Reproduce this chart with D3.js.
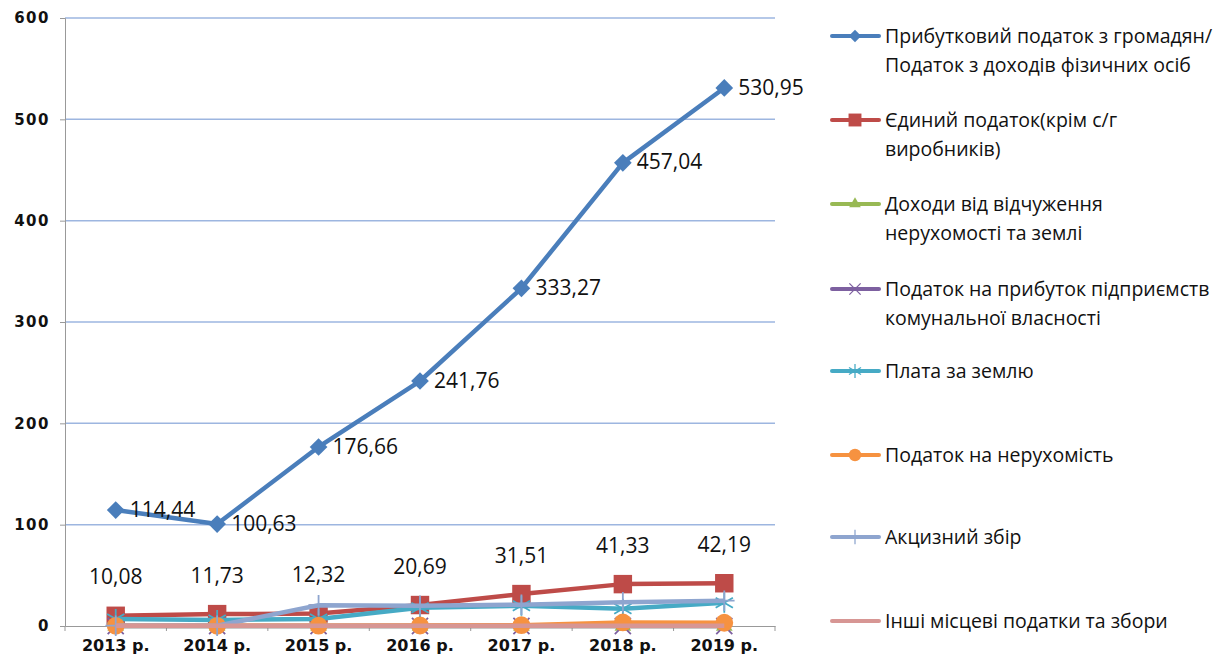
<!DOCTYPE html>
<html>
<head>
<meta charset="utf-8">
<script src="https://cdn.jsdelivr.net/npm/d3@7"></script>
<style>
  body { margin: 0; background: #fff; }
  svg { display: block; }
</style>
</head>
<body>
<svg id="chart" width="1219" height="667"></svg>
<script>
// data
const years = ["2013 р.", "2014 р.", "2015 р.", "2016 р.", "2017 р.", "2018 р.", "2019 р."];
const pdfo = [114.44, 100.63, 176.66, 241.76, 333.27, 457.04, 530.95];
const singleTax = [10.08, 11.73, 12.32, 20.69, 31.51, 41.33, 42.19];
const alienation = [0, 0, 0, 0, 0, 0, 0];
const profitTax = [0, 0, 0, 0, 0, 0, 0];
const landFee = [7, 6, 7, 18, 20, 17, 23];
const propertyTax = [0.2, 0.2, 0.3, 0.5, 0.8, 3.5, 3.2];
const excise = [0.3, 0.3, 20.5, 20, 21, 23.5, 25];
const otherTaxes = [0.3, 0.3, 0.3, 0.3, 0.3, 0.3, 0.3];
const yTicks = [0, 100, 200, 300, 400, 500, 600];

const series = [
  { name: ["Прибутковий податок з громадян/", "Податок з доходів фізичних осіб"], values: pdfo, color: "#4A7EBB", marker: "diamond", labels: "right" },
  { name: ["Єдиний податок(крім с/г", "виробників)"], values: singleTax, color: "#BE4B48", marker: "square", labels: "above" },
  { name: ["Доходи від відчуження", "нерухомості та землі"], values: alienation, color: "#98B954", marker: "triangle" },
  { name: ["Податок на прибуток підприємств", "комунальної власності"], values: profitTax, color: "#7D60A0", marker: "x" },
  { name: ["Плата за землю"], values: landFee, color: "#46AAC5", marker: "asterisk" },
  { name: ["Податок на нерухомість"], values: propertyTax, color: "#F69240", marker: "circle" },
  { name: ["Акцизний збір"], values: excise, color: "#8EA5CF", marker: "plus" },
  { name: ["Інші місцеві податки та збори"], values: otherTaxes, color: "#D79694", marker: null }
];

const svg = d3.select("#chart");
const plotLeft = 65, plotRight = 775, plotTop = 18, plotBottom = 626;

const x = d3.scaleBand().domain(years).range([plotLeft, plotRight]);
const y = d3.scaleLinear().domain([0, 600]).range([plotBottom, plotTop]);
const cx = d => x(d) + x.bandwidth() / 2;

// gridlines
svg.append("g")
  .selectAll("line")
  .data(yTicks.filter(t => t > 0))
  .enter().append("line")
  .attr("x1", plotLeft).attr("x2", plotRight)
  .attr("y1", d => y(d)).attr("y2", d => y(d))
  .attr("stroke", "#9DB6E0").attr("stroke-width", 1.5);

// y axis
const yAxis = svg.append("g")
  .attr("transform", `translate(${plotLeft},0)`)
  .call(d3.axisLeft(y).tickValues(yTicks).tickSize(5).tickPadding(10).tickFormat(d3.format("d")));
yAxis.select(".domain").attr("stroke", "#999");
yAxis.selectAll(".tick line").attr("stroke", "#999");
yAxis.selectAll("text")
  .attr("font-family", "DejaVu Sans").attr("font-size", 15).attr("font-weight", "bold")
  .attr("letter-spacing", 1.5)
  .attr("fill", "#111");

// x axis
const xAxis = svg.append("g")
  .attr("transform", `translate(0,${plotBottom})`)
  .call(d3.axisBottom(x).tickSize(0).tickPadding(14));
xAxis.select(".domain").attr("stroke", "#999");
xAxis.selectAll("text")
  .attr("font-family", "DejaVu Sans").attr("font-size", 16).attr("font-weight", "bold")
  .attr("fill", "#111");
// tick marks between categories
svg.append("g")
  .selectAll("line")
  .data(d3.range(years.length + 1))
  .enter().append("line")
  .attr("x1", i => plotLeft + i * x.bandwidth())
  .attr("x2", i => plotLeft + i * x.bandwidth())
  .attr("y1", plotBottom).attr("y2", plotBottom + 5)
  .attr("stroke", "#999");

function markerPath(type) {
  const sym = {
    diamond: d3.symbol().type(d3.symbolDiamond2).size(200),
    square: d3.symbol().type(d3.symbolSquare).size(340),
    triangle: d3.symbol().type(d3.symbolTriangle).size(120),
    circle: d3.symbol().type(d3.symbolCircle).size(250),
    x: d3.symbol().type(d3.symbolTimes).size(170),
    plus: d3.symbol().type(d3.symbolPlus).size(140),
    asterisk: d3.symbol().type(d3.symbolAsterisk).size(280)
  };
  return sym[type]();
}

const line = d3.line().x((d, i) => cx(years[i])).y(d => y(d));
const isOpen = m => m === "x" || m === "plus" || m === "asterisk";

series.forEach(s => {
  const g = svg.append("g");
  g.append("path")
    .datum(s.values)
    .attr("d", line)
    .attr("fill", "none")
    .attr("stroke", s.color)
    .attr("stroke-width", 4.5)
    .attr("stroke-linejoin", "round");
  if (s.marker) {
    g.selectAll(".m")
      .data(s.values)
      .enter().append("path")
      .attr("transform", (d, i) => `translate(${cx(years[i])},${y(d)})`)
      .attr("d", markerPath(s.marker))
      .attr("fill", isOpen(s.marker) ? "none" : s.color)
      .attr("stroke", isOpen(s.marker) ? s.color : "none")
      .attr("stroke-width", isOpen(s.marker) ? 1.8 : 0);
  }
});

// data labels
series.forEach(s => {
  if (!s.labels) return;
  svg.append("g")
    .selectAll("text")
    .data(s.values)
    .enter().append("text")
    .attr("x", (d, i) => s.labels === "right" ? cx(years[i]) + 14 : cx(years[i]))
    .attr("y", d => s.labels === "right" ? y(d) + 1 : y(d) - 37)
    .attr("text-anchor", s.labels === "right" ? "start" : "middle")
    .attr("dominant-baseline", "middle")
    .attr("font-family", "Open Sans").attr("font-size", 21)
    .attr("fill", "#111")
    .text(d => d3.format(".2f")(d).replace(".", ","));
});

// legend
const legendY = [36, 120, 204, 289, 371, 455, 537, 621];
const legend = svg.append("g");
series.forEach((s, i) => {
  const g = legend.append("g").attr("transform", `translate(0,${legendY[i]})`);
  g.append("line")
    .attr("x1", 832).attr("x2", 879)
    .attr("stroke", s.color).attr("stroke-width", 4).attr("stroke-linecap", "round");
  if (s.marker) {
    g.append("path")
      .attr("transform", "translate(855,0) scale(0.7)")
      .attr("d", markerPath(s.marker))
      .attr("fill", isOpen(s.marker) ? "none" : s.color)
      .attr("stroke", isOpen(s.marker) ? s.color : "none")
      .attr("stroke-width", isOpen(s.marker) ? 1.8 : 0);
  }
  const t = g.append("text")
    .attr("font-family", "Open Sans").attr("font-size", 19.5)
    .attr("fill", "#111");
  s.name.forEach((ln, j) => {
    t.append("tspan").attr("x", 885).attr("y", 7 + j * 29).text(ln);
  });
});
</script>
</body>
</html>
